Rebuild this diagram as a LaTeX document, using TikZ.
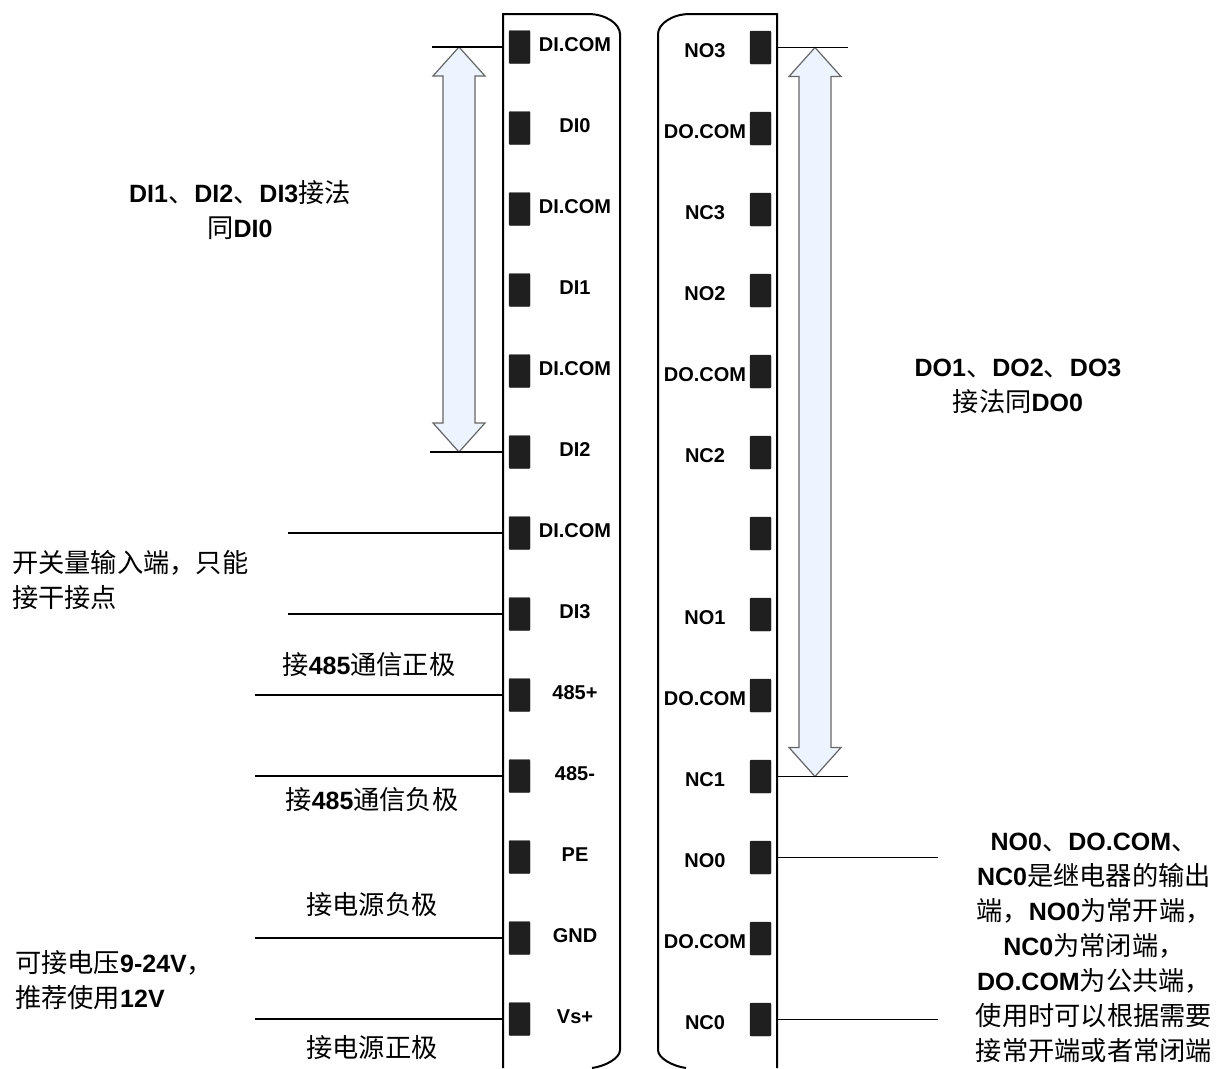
\documentclass[tikz,border=0pt]{standalone}
\usepackage{fontspec}
\setmainfont{Liberation Sans}
\newfontfamily\cjk[Scale=1.05]{Noto Sans CJK SC}
\newcommand\zh[1]{{\cjk\mdseries #1}}
\definecolor{arrowfill}{HTML}{EDF4FF}
\begin{document}
\begin{tikzpicture}
[
    x=1pt, y=-1pt,
    pin/.style={draw=black!88, fill=black!88, rounded corners=1pt, minimum width=21pt, minimum height=33pt, inner sep=0pt},
    lbl/.style={font=\fontsize{20}{20}\selectfont\bfseries, inner sep=0pt},
    wire/.style={line width=1.6pt},
    strip/.style={line width=2pt},
    note/.style={font=\fontsize{25}{35}\selectfont\bfseries, align=center, inner sep=0pt},
    bigarrow/.style={draw=black!60, fill=arrowfill, line width=1.2pt},
]
\useasboundingbox (0,0) rectangle (1220,1068);

% terminal strips
\draw[strip] (503,1068) -- (503,14) -- (588,14) .. controls (606,14) and (620,24) .. (620,34)
    -- (620,1050) .. controls (620,1058) and (606,1066) .. (592,1068);
\draw[strip] (777,1068) -- (777,14) -- (690,14) .. controls (672,14) and (658,24) .. (658,34)
    -- (658,1050) .. controls (658,1058) and (672,1066) .. (686,1068);
\coordinate (eL) at (503,0);
\coordinate (eR) at (777,0);

% terminals
\foreach \name [count=\i] in {DI.COM,DI0,DI.COM,DI1,DI.COM,DI2,DI.COM,DI3,485+,485-,PE,GND,Vs+}
{
    \node[pin] (tL\i) at (519.5,{47+81*(\i-1)}) {};
    \node[lbl] (nL\i) at ([shift={(55.5,-2)}]tL\i.center) {\name};
}
\foreach \name [count=\i] in {NO3,DO.COM,NC3,NO2,DO.COM,NC2,,NO1,DO.COM,NC1,NO0,DO.COM,NC0}
{
    \node[pin] (tR\i) at (760.5,{47.5+81*(\i-1)}) {};
    \node[lbl] (nR\i) at ([shift={(-55.5,3)}]tR\i.center) {\name};
}

% range arrows
\path (tL1 -| eL) ++(-44,0) coordinate (Ltop);
\path (tL6 -| eL) ++(-44,0) coordinate (Lbot);
\path (tR1 -| eR) ++(38,0) coordinate (Rtop);
\path (tR10 -| eR) ++(38,0) coordinate (Rbot);
\foreach \s in {L,R}
    \draw[bigarrow] (\s top) -- ++(26,29) -- ++(-10,0) -- ([shift={(16,-29)}]\s bot) -- ++(10,0)
        -- (\s bot) -- ++(-26,-29) -- ++(10,0) -- ([shift={(-16,29)}]\s top) -- ++(-10,0) -- cycle;

% wires
\draw[wire] (tL1 -| eL) -- ++(-71,0);
\draw[wire] (tL6 -| eL) -- ++(-73,0);
\foreach \i in {7,8} \draw[wire] (tL\i -| eL) -- ++(-215,0);
\foreach \i in {9,10,12,13} \draw[wire] (tL\i -| eL) -- ++(-248,0);
\draw[wire] (tR1 -| eR) -- ++(71,0);
\draw[wire] (tR10 -| eR) -- ++(71,0);
\foreach \i in {11,13} \draw[wire] (tR\i -| eR) -- ++(161,0);

% notes
\node[note] (nDI) at (240,210) {DI1\zh{、}DI2\zh{、}DI3\zh{接法}\\\zh{同}DI0};
\node[note] (nDO) at (1018,386) {DO1\zh{、}DO2\zh{、}DO3\\\zh{接法同}DO0};
\node[note, align=left, anchor=west] (nSw) at (12,580) {\zh{开关量输入端，只能}\\\zh{接干接点}};
\node[note] (nRxp) at (369,665) {\zh{接}485\zh{通信正极}};
\node[note] (nRxn) at (372,800) {\zh{接}485\zh{通信负极}};
\node[note] (nGnd) at (372,905) {\zh{接电源负极}};
\node[note, align=left, anchor=west] (nVs) at (15,980) {\zh{可接电压}9-24V\zh{，}\\\zh{推荐使用}12V};
\node[note] (nPwr) at (372,1048) {\zh{接电源正极}};
\node[note] (nRel) at (1094,948) {NO0\zh{、}DO.COM\zh{、}\\NC0\zh{是继电器的输出}\\\zh{端，}NO0\zh{为常开端，}\\NC0\zh{为常闭端，}\\DO.COM\zh{为公共端，}\\\zh{使用时可以根据需要}\\\zh{接常开端或者常闭端}};
\end{tikzpicture}
\end{document}
